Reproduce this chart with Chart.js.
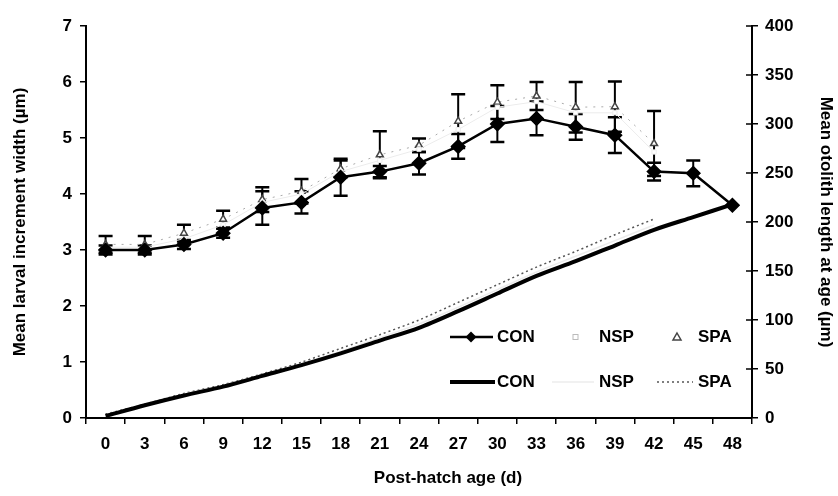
<!DOCTYPE html>
<html>
<head>
<meta charset="utf-8">
<script src="https://cdn.jsdelivr.net/npm/chart.js@4.4.1/dist/chart.umd.min.js"></script>
<style>
  html, body { margin: 0; padding: 0; background: #fff; }
  #wrap { width: 838px; height: 496px; position: relative; }
</style>
</head>
<body>
<div id="wrap"><canvas id="chart"></canvas></div>
<script>
// ── DATA ─────────────────────────────────────────
const ages = ['0', '3', '6', '9', '12', '15', '18', '21', '24', '27', '30', '33', '36', '39', '42', '45', '48'];

// increment width (µm), left axis
const conWidth    = [3.0, 3.0, 3.1, 3.3, 3.75, 3.85, 4.3, 4.4, 4.55, 4.85, 5.25, 5.35, 5.2, 5.05, 4.4, 4.37, 3.8];
const conWidthErr = [0.08, 0.08, 0.08, 0.08, 0.3, 0.2, 0.33, 0.1, 0.2, 0.22, 0.32, 0.3, 0.23, 0.32, 0.16, 0.23, 0];
const nspWidth    = [3.05, 3.05, 3.2, 3.45, 3.85, 4.0, 4.4, 4.6, 4.8, 5.15, 5.55, 5.65, 5.45, 5.45, 4.75, null, null];
const spaWidth    = [3.1, 3.1, 3.3, 3.55, 3.9, 4.05, 4.45, 4.7, 4.87, 5.3, 5.64, 5.75, 5.55, 5.56, 4.9, null, null];
const spaWidthErr = [0.15, 0.15, 0.15, 0.15, 0.22, 0.22, 0.15, 0.42, 0.12, 0.48, 0.3, 0.25, 0.45, 0.45, 0.58, 0, 0];

// otolith length at age (µm), right axis
const conLength = [2, 13, 23, 32, 43, 54, 66, 79, 92, 109, 127, 145, 160, 176, 192, 205, 218];
const nspLength = [3, 13, 24, 33, 44, 55, 68, 82, 96, 113, 131, 149, 165, 181, 197, null, null];
const spaLength = [4, 14, 25, 34, 45, 57, 71, 85, 100, 118, 136, 154, 170, 187, 203, null, null];

const FONT = 'Liberation Sans, Arial, sans-serif';
const NSP_COLOR = '#ececec';

Chart.defaults.color = '#000';
Chart.defaults.font.family = FONT;

// ── ERROR BARS ───────────────────────────────────
const errorBars = {
  id: 'errorBars',
  beforeDatasetsDraw(chart) {
    const { ctx } = chart;
    const yW = chart.scales.yW;
    [[0, conWidthErr], [2, spaWidthErr]].forEach(([di, errs]) => {
      const meta = chart.getDatasetMeta(di);
      meta.data.forEach((pt, i) => {
        const v = chart.data.datasets[di].data[i];
        const e = errs[i];
        if (v == null || !e) return;
        const yTop = yW.getPixelForValue(v + e);
        const yBot = yW.getPixelForValue(v - e);
        ctx.save();
        ctx.strokeStyle = '#000';
        ctx.lineWidth = 2;
        ctx.beginPath();
        ctx.moveTo(pt.x, yTop); ctx.lineTo(pt.x, yBot);
        ctx.stroke();
        ctx.lineWidth = 2.5;
        ctx.beginPath();
        ctx.moveTo(pt.x - 7, yTop); ctx.lineTo(pt.x + 7, yTop);
        ctx.moveTo(pt.x - 7, yBot); ctx.lineTo(pt.x + 7, yBot);
        ctx.stroke();
        ctx.restore();
      });
    });
  },
};

// ── LEGEND + X TITLE ─────────────────────────────
const extras = {
  id: 'extras',
  afterDraw(chart) {
    const { ctx } = chart;
    ctx.save();

    // right axis ticks cross the axis line
    const yL = chart.scales.yL;
    ctx.strokeStyle = '#000';
    ctx.lineWidth = 1.5;
    yL.ticks.forEach(t => {
      const py = yL.getPixelForValue(t.value);
      ctx.beginPath(); ctx.moveTo(yL.left - 6, py); ctx.lineTo(yL.left, py); ctx.stroke();
    });

    ctx.font = 'bold 17px ' + FONT;
    ctx.fillStyle = '#000';
    ctx.textBaseline = 'middle';
    ctx.textAlign = 'left';

    // row 1: marker series
    let y = 337;
    ctx.strokeStyle = '#000';
    ctx.lineWidth = 2.5;
    ctx.beginPath(); ctx.moveTo(450, y); ctx.lineTo(493, y); ctx.stroke();
    ctx.beginPath();
    ctx.moveTo(471, y - 5.5); ctx.lineTo(476.5, y); ctx.lineTo(471, y + 5.5); ctx.lineTo(465.5, y);
    ctx.closePath(); ctx.fill();
    ctx.fillText('CON', 497, y);

    ctx.strokeStyle = '#bbb';
    ctx.lineWidth = 1;
    ctx.strokeRect(573, y - 2.5, 5, 5);
    ctx.fillText('NSP', 599, y);

    ctx.strokeStyle = '#444';
    ctx.lineWidth = 1.5;
    ctx.beginPath();
    ctx.moveTo(677, y - 4); ctx.lineTo(681, y + 3); ctx.lineTo(673, y + 3); ctx.closePath();
    ctx.stroke();
    ctx.fillText('SPA', 698, y);

    // row 2: otolith length lines
    y = 382;
    ctx.strokeStyle = '#000';
    ctx.lineWidth = 4;
    ctx.beginPath(); ctx.moveTo(450, y); ctx.lineTo(495, y); ctx.stroke();
    ctx.fillText('CON', 497, y);

    ctx.strokeStyle = NSP_COLOR;
    ctx.lineWidth = 1.5;
    ctx.beginPath(); ctx.moveTo(552, y); ctx.lineTo(594, y); ctx.stroke();
    ctx.fillText('NSP', 599, y);

    ctx.strokeStyle = '#555';
    ctx.lineWidth = 1.5;
    ctx.setLineDash([2, 3]);
    ctx.beginPath(); ctx.moveTo(657, y); ctx.lineTo(693, y); ctx.stroke();
    ctx.setLineDash([]);
    ctx.fillText('SPA', 698, y);

    // x axis title
    ctx.textAlign = 'center';
    ctx.fillText('Post-hatch age (d)', 448, 478);
    ctx.restore();
  },
};

// ── CHART ────────────────────────────────────────
const tickFont = { family: FONT, weight: 'bold', size: 17 };
const axisGrid = { drawOnChartArea: false, drawTicks: true, tickLength: 6, color: '#000', lineWidth: 1.5 };

new Chart(document.getElementById('chart').getContext('2d'), {
  type: 'line',
  data: {
    labels: ages,
    datasets: [
      {
        label: 'CON', data: conWidth, yAxisID: 'yW',
        borderColor: '#000', borderWidth: 2.5, tension: 0,
        pointStyle: 'rectRot', pointRadius: 6, pointBackgroundColor: '#000', pointBorderColor: '#000',
      },
      {
        label: 'NSP', data: nspWidth, yAxisID: 'yW',
        borderColor: NSP_COLOR, borderWidth: 1, tension: 0,
        pointStyle: 'rect', pointRadius: 3, pointBackgroundColor: '#fff', pointBorderColor: NSP_COLOR,
      },
      {
        label: 'SPA', data: spaWidth, yAxisID: 'yW',
        borderColor: '#aaa', borderWidth: 1, borderDash: [2, 6], tension: 0,
        pointStyle: 'triangle', pointRadius: 4, pointBackgroundColor: '#fff', pointBorderColor: '#444', pointBorderWidth: 1.5,
      },
      {
        label: 'CON', data: conLength, yAxisID: 'yL',
        borderColor: '#000', borderWidth: 4, tension: 0.3, pointRadius: 0,
      },
      {
        label: 'NSP', data: nspLength, yAxisID: 'yL',
        borderColor: NSP_COLOR, borderWidth: 1.5, tension: 0.3, pointRadius: 0,
      },
      {
        label: 'SPA', data: spaLength, yAxisID: 'yL',
        borderColor: '#555', borderWidth: 1.5, borderDash: [2, 3], tension: 0.3, pointRadius: 0,
      },
    ],
  },
  options: {
    responsive: true,
    maintainAspectRatio: false,
    animation: false,
    layout: { padding: { top: 26, left: 0, right: 0, bottom: 0 } },
    plugins: {
      legend: { display: false },
      tooltip: { enabled: false },
    },
    scales: {
      x: {
        type: 'category',
        offset: true,
        grid: { ...axisGrid, offset: true },
        border: { display: true, color: '#000', width: 2 },
        ticks: { font: tickFont, padding: 10, maxRotation: 0, autoSkip: false },
        afterFit: s => { s.height = 78; },
      },
      yW: {
        position: 'left',
        min: 0, max: 7,
        grid: axisGrid,
        border: { display: true, color: '#000', width: 2 },
        ticks: { font: tickFont, stepSize: 1, padding: 8 },
        title: {
          display: true, text: 'Mean larval increment width (µm)',
          font: { family: FONT, weight: 'bold', size: 17 }, padding: { top: 10, bottom: 0 },
        },
        afterFit: s => { s.width = 86; },
      },
      yL: {
        position: 'right',
        min: 0, max: 400,
        grid: axisGrid,
        border: { display: true, color: '#000', width: 2 },
        ticks: { font: tickFont, stepSize: 50, padding: 7 },
        title: {
          display: true, text: 'Mean otolith length at age (µm)',
          font: { family: FONT, weight: 'bold', size: 17 }, padding: { top: 2, bottom: 0 },
        },
        afterFit: s => { s.width = 86; },
      },
    },
  },
  plugins: [errorBars, extras],
});
</script>
</body>
</html>
